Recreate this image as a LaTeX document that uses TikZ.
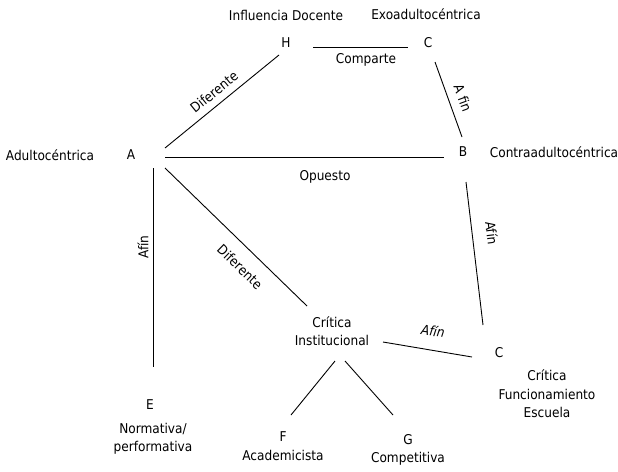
\documentclass[tikz,border=0pt]{standalone}
\usepackage{fontspec}
\setmainfont{DejaVu Sans Condensed}
\begin{document}
\begin{tikzpicture}[x=1pt, y=-1pt,
        lbl/.style={inner sep=0pt, align=center, font=\fontsize{13.5}{18.5}\selectfont},
        rel/.style={line width=0.9pt}]
        \useasboundingbox (0,0) rectangle (618,471);
        % categorias
        \node[lbl] (infl) at (286,15) {Influencia Docente};
        \node[lbl] (exo) at (426,14) {Exoadultocéntrica};
        \node[lbl] (H) at (286,43) {H};
        \node[lbl] (C1) at (428,43) {C};
        \node[lbl] (adu) at (50,155) {Adultocéntrica};
        \node[lbl] (A) at (131,155) {A};
        \node[lbl] (B) at (463,152) {B};
        \node[lbl] (contra) at (554,152) {Contraadultocéntrica};
        \node[lbl] (CI) at (332,331) {Crítica\\Institucional};
        \node[lbl] (C2) at (499,353) {C};
        \node[lbl] (cfe) at (547,394) {Crítica\\Funcionamiento\\Escuela};
        \node[lbl] (E) at (150,405) {E};
        \node[lbl] (norm) at (153,439) {Normativa/\\performativa};
        \node[lbl] (F) at (283,437) {F};
        \node[lbl] (acad) at (283,455) {Academicista};
        \node[lbl] (G) at (408,440) {G};
        \node[lbl] (comp) at (408,459) {Competitiva};
        % relaciones
        \draw[rel] ([shift={(34,-7)}]A.center) -- ([shift={(-7,12)}]H.center);
        \draw[rel] ([shift={(27,4)}]H.center) -- ([shift={(-20,4)}]C1.center);
        \draw[rel] ([shift={(7,19)}]C1.center) -- ([shift={(-1,-15)}]B.center);
        \draw[rel] ([shift={(34,2)}]A.center) -- ([shift={(-19,5)}]B.center);
        \draw[rel] ([shift={(3,30)}]B.center) -- ([shift={(-16,-28)}]C2.center);
        \draw[rel] ([shift={(34,13)}]A.center) -- ([shift={(-25,-25)}]CI.center);
        \draw[rel] ([shift={(22,13)}]A.center) -- ([shift={(3,-38)}]E.center);
        \draw[rel] ([shift={(51,11)}]CI.center) -- ([shift={(-27,4)}]C2.center);
        \draw[rel] ([shift={(3,30)}]CI.center) -- ([shift={(8,-22)}]F.center);
        \draw[rel] ([shift={(13,30)}]CI.center) -- ([shift={(-15,-25)}]G.center);
        % etiquetas
        \node[lbl, rotate=39] (dif1) at (214,92) {Diferente};
        \node[lbl] (compa) at (366,60) {Comparte};
        \node[lbl, rotate=-70] (afin1) at (463,98) {A fin};
        \node[lbl] (opu) at (325,177) {Opuesto};
        \node[lbl, rotate=-83] (afin2) at (492,233) {Afín};
        \node[lbl, rotate=-8] (afin3) at (433,331) {\itshape Afín};
        \node[lbl, rotate=-44] (dif2) at (240,267) {Diferente};
        \node[lbl, rotate=90] (afin4) at (143,247) {Afín};
\end{tikzpicture}
\end{document}
